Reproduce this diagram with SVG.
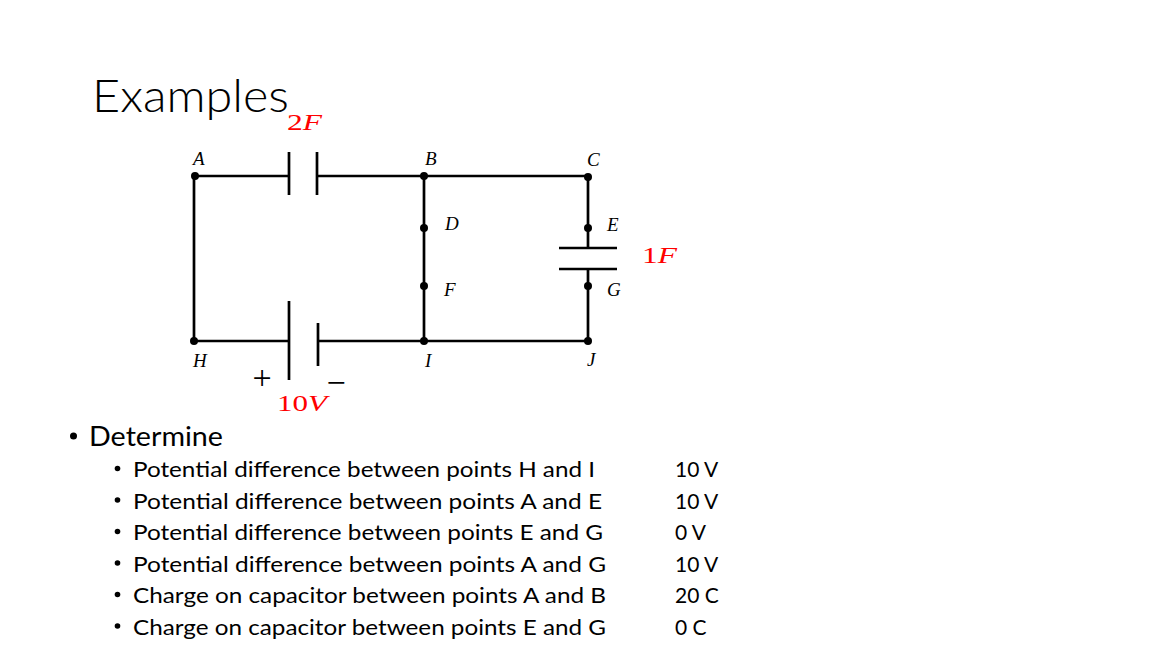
<svg xmlns="http://www.w3.org/2000/svg" width="1155" height="650" viewBox="0 0 1155 650">
<style>
.wire{stroke:#000;stroke-width:2.7;fill:none;stroke-linecap:butt}
.dot{fill:#000}
.lbl{font-family:"Liberation Serif","DejaVu Serif",serif;font-style:italic;font-size:19px;fill:#000}
.val{font-family:"Liberation Serif","DejaVu Serif",serif;font-size:23px;fill:#ff0000}
.it{font-style:italic}
.sym{font-family:"Liberation Serif","DejaVu Serif",serif;font-size:34px;fill:#000}
.title{font-family:Lato,"Open Sans",sans-serif;font-weight:300;font-size:46px;fill:#000}
.h1{font-family:Lato,"Open Sans",sans-serif;font-size:27px;fill:#000}
.h2{font-family:Lato,"Open Sans",sans-serif;font-size:21px;fill:#000}
</style>
<rect width="1155" height="650" fill="#fff"/>
<text class="title" x="92" y="112" textLength="197" lengthAdjust="spacingAndGlyphs">Examples</text>

<g id="connectors">
<path class="wire" d="M194,176 H289 M317,176 H588 M194,176 V341 M424,176 V341 M588,176 V248 M588,269 V341 M194,341 H289 M318,341 H588"/>
</g>

<g id="cap-2F">
<path class="wire" d="M289,152 V195 M317,152 V195"/>
<text class="val" x="287" y="130" textLength="35" lengthAdjust="spacingAndGlyphs">2<tspan class="it">F</tspan></text>
</g>
<g id="cap-1F">
<path class="wire" d="M559,248 H617 M559,269 H617"/>
<text class="val" x="642" y="263" textLength="35" lengthAdjust="spacingAndGlyphs">1<tspan class="it">F</tspan></text>
</g>
<g id="battery-10V">
<path class="wire" d="M289,301 V380 M318,323 V366"/>
<text class="sym" x="262" y="389" text-anchor="middle">+</text>
<text class="sym" x="336" y="394" text-anchor="middle">−</text>
<text class="val" x="277" y="411" textLength="50" lengthAdjust="spacingAndGlyphs">10<tspan class="it">V</tspan></text>
</g>

<g id="node-A"><circle class="dot" cx="195" cy="176" r="4"/><text class="lbl" x="193" y="165">A</text></g>
<g id="node-B"><circle class="dot" cx="424" cy="176" r="4"/><text class="lbl" x="425" y="165">B</text></g>
<g id="node-C"><circle class="dot" cx="588" cy="177" r="4"/><text class="lbl" x="587" y="166">C</text></g>
<g id="node-D"><circle class="dot" cx="424" cy="228" r="4"/><text class="lbl" x="445" y="230">D</text></g>
<g id="node-E"><circle class="dot" cx="588" cy="228" r="4"/><text class="lbl" x="607" y="231">E</text></g>
<g id="node-F"><circle class="dot" cx="424" cy="286" r="4"/><text class="lbl" x="444" y="296">F</text></g>
<g id="node-G"><circle class="dot" cx="588" cy="286" r="4"/><text class="lbl" x="607" y="296">G</text></g>
<g id="node-H"><circle class="dot" cx="194" cy="341" r="4"/><text class="lbl" x="193" y="367">H</text></g>
<g id="node-I"><circle class="dot" cx="424" cy="341" r="4"/><text class="lbl" x="425" y="367">I</text></g>
<g id="node-J"><circle class="dot" cx="588" cy="341" r="4"/><text class="lbl" x="587" y="366">J</text></g>

<g id="questions">
<circle cx="73.5" cy="436" r="3.5" fill="#000"/>
<text class="h1" x="89" y="446" textLength="134" lengthAdjust="spacingAndGlyphs">Determine</text>
<g fill="#000">
<circle cx="117.5" cy="468.5" r="2.8"/>
<circle cx="117.5" cy="500" r="2.8"/>
<circle cx="117.5" cy="531.5" r="2.8"/>
<circle cx="117.5" cy="563" r="2.8"/>
<circle cx="117.5" cy="594.5" r="2.8"/>
<circle cx="117.5" cy="626" r="2.8"/>
</g>
<text class="h2" x="133" y="477" textLength="462" lengthAdjust="spacingAndGlyphs">Potential difference between points H and I</text>
<text class="h2" x="133" y="508.5" textLength="469" lengthAdjust="spacingAndGlyphs">Potential difference between points A and E</text>
<text class="h2" x="133" y="540" textLength="470" lengthAdjust="spacingAndGlyphs">Potential difference between points E and G</text>
<text class="h2" x="133" y="571.5" textLength="473" lengthAdjust="spacingAndGlyphs">Potential difference between points A and G</text>
<text class="h2" x="133" y="603" textLength="473" lengthAdjust="spacingAndGlyphs">Charge on capacitor between points A and B</text>
<text class="h2" x="133" y="634.5" textLength="473" lengthAdjust="spacingAndGlyphs">Charge on capacitor between points E and G</text>
<text class="h2" x="675" y="477">10 V</text>
<text class="h2" x="675" y="508.5">10 V</text>
<text class="h2" x="675" y="540">0 V</text>
<text class="h2" x="675" y="571.5">10 V</text>
<text class="h2" x="675" y="603">20 C</text>
<text class="h2" x="675" y="634.5">0 C</text>
</g>
</svg>
